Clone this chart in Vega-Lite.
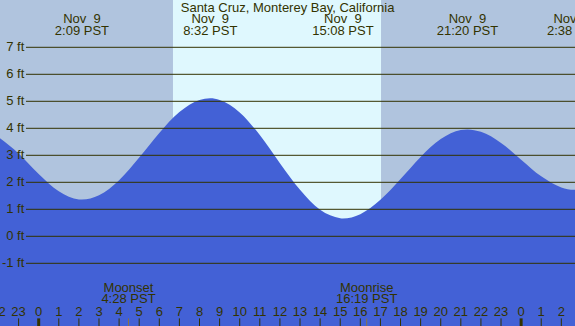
{
  "$schema": "https://vega.github.io/schema/vega-lite/v6.json",
  "width": 575,
  "height": 326,
  "autosize": {"type": "none"},
  "padding": 0,
  "background": "#B0C4DE",
  "config": {
    "view": {"stroke": null},
    "text": {"font": "Liberation Sans", "fontSize": 13, "color": "#333300"}
  },
  "datasets": {
    "tide": [
      {"t": -2, "ft": 3.67}, {"t": -1, "ft": 3.07}, {"t": 0, "ft": 2.31}, {"t": 1, "ft": 1.67},
      {"t": 2, "ft": 1.365}, {"t": 2.15, "ft": 1.36}, {"t": 3, "ft": 1.52}, {"t": 4, "ft": 2.08},
      {"t": 5, "ft": 2.92}, {"t": 6, "ft": 3.83}, {"t": 7, "ft": 4.6}, {"t": 8, "ft": 5.05},
      {"t": 8.53, "ft": 5.11}, {"t": 9, "ft": 5.05}, {"t": 10, "ft": 4.59}, {"t": 11, "ft": 3.75},
      {"t": 12, "ft": 2.71}, {"t": 13, "ft": 1.72}, {"t": 14, "ft": 0.98}, {"t": 15, "ft": 0.67},
      {"t": 15.13, "ft": 0.66}, {"t": 16, "ft": 0.82}, {"t": 17, "ft": 1.35}, {"t": 18, "ft": 2.12},
      {"t": 19, "ft": 2.94}, {"t": 20, "ft": 3.6}, {"t": 21, "ft": 3.94}, {"t": 21.33, "ft": 3.96},
      {"t": 22, "ft": 3.87}, {"t": 23, "ft": 3.46}, {"t": 24, "ft": 2.84}, {"t": 25, "ft": 2.22},
      {"t": 26, "ft": 1.81}, {"t": 26.63, "ft": 1.72}, {"t": 26.7, "ft": 1.72}
    ],
    "daylight": [{"sunrise": 6.68, "sunset": 17.03}],
    "levels": [
      {"ft": 7, "label": "7 ft"}, {"ft": 6, "label": "6 ft"}, {"ft": 5, "label": "5 ft"},
      {"ft": 4, "label": "4 ft"}, {"ft": 3, "label": "3 ft"}, {"ft": 2, "label": "2 ft"},
      {"ft": 1, "label": "1 ft"}, {"ft": 0, "label": "0 ft"}, {"ft": -1, "label": "-1 ft"}
    ],
    "extremes": [
      {"t": 2.15, "date": "Nov\u00a0 9", "time": "2:09 PST"},
      {"t": 8.533, "date": "Nov\u00a0 9", "time": "8:32 PST"},
      {"t": 15.133, "date": "Nov\u00a0 9", "time": "15:08 PST"},
      {"t": 21.333, "date": "Nov\u00a0 9", "time": "21:20 PST"},
      {"t": 26.633, "date": "Nov 10", "time": "2:38 PST"}
    ],
    "hours": [
      {"t": -2, "label": "22", "midnight": false}, {"t": -1, "label": "23", "midnight": false},
      {"t": 0, "label": "0", "midnight": true}, {"t": 1, "label": "1", "midnight": false},
      {"t": 2, "label": "2", "midnight": false}, {"t": 3, "label": "3", "midnight": false},
      {"t": 4, "label": "4", "midnight": false}, {"t": 5, "label": "5", "midnight": false},
      {"t": 6, "label": "6", "midnight": false}, {"t": 7, "label": "7", "midnight": false},
      {"t": 8, "label": "8", "midnight": false}, {"t": 9, "label": "9", "midnight": false},
      {"t": 10, "label": "10", "midnight": false}, {"t": 11, "label": "11", "midnight": false},
      {"t": 12, "label": "12", "midnight": false}, {"t": 13, "label": "13", "midnight": false},
      {"t": 14, "label": "14", "midnight": false}, {"t": 15, "label": "15", "midnight": false},
      {"t": 16, "label": "16", "midnight": false}, {"t": 17, "label": "17", "midnight": false},
      {"t": 18, "label": "18", "midnight": false}, {"t": 19, "label": "19", "midnight": false},
      {"t": 20, "label": "20", "midnight": false}, {"t": 21, "label": "21", "midnight": false},
      {"t": 22, "label": "22", "midnight": false}, {"t": 23, "label": "23", "midnight": false},
      {"t": 24, "label": "0", "midnight": true}, {"t": 25, "label": "1", "midnight": false},
      {"t": 26, "label": "2", "midnight": false}
    ],
    "moon": [
      {"t": 4.467, "event": "Moonset", "time": "4:28 PST"},
      {"t": 16.317, "event": "Moonrise", "time": "16:19 PST"}
    ]
  },
  "layer": [
    {
      "data": {"name": "daylight"},
      "mark": {"type": "rect", "color": "#DFF8FE"},
      "encoding": {
        "x": {"field": "sunrise", "type": "quantitative", "scale": {"domain": [-1.925, 26.68], "nice": false, "zero": false}, "axis": null},
        "x2": {"field": "sunset"},
        "y": {"datum": 8.752, "type": "quantitative", "scale": {"domain": [-3.322, 8.752], "nice": false, "zero": false}, "axis": null},
        "y2": {"datum": -3.322}
      }
    },
    {
      "data": {"name": "tide"},
      "mark": {"type": "area", "color": "#4361D6", "interpolate": "monotone"},
      "encoding": {
        "x": {"field": "t", "type": "quantitative"},
        "y": {"field": "ft", "type": "quantitative"},
        "y2": {"datum": -3.322}
      }
    },
    {
      "data": {"name": "levels"},
      "mark": {"type": "rule", "color": "#333300", "strokeWidth": 1},
      "encoding": {
        "x": {"datum": -0.632, "type": "quantitative"},
        "x2": {"datum": 26.68},
        "y": {"field": "ft", "type": "quantitative"}
      }
    },
    {
      "data": {"name": "levels"},
      "mark": {"type": "text", "align": "right", "baseline": "middle"},
      "encoding": {
        "x": {"datum": -0.716, "type": "quantitative"},
        "y": {"field": "ft", "type": "quantitative"},
        "text": {"field": "label"}
      }
    },
    {
      "data": {"values": [{"title": "Santa Cruz, Monterey Bay, California"}]},
      "mark": {"type": "text", "align": "center", "baseline": "middle"},
      "encoding": {
        "x": {"datum": 12.38, "type": "quantitative"},
        "y": {"datum": 8.47, "type": "quantitative"},
        "text": {"field": "title"}
      }
    },
    {
      "data": {"name": "extremes"},
      "mark": {"type": "text", "align": "center", "baseline": "middle"},
      "encoding": {
        "x": {"field": "t", "type": "quantitative"},
        "y": {"datum": 8.05, "type": "quantitative"},
        "text": {"field": "date"}
      }
    },
    {
      "data": {"name": "extremes"},
      "mark": {"type": "text", "align": "center", "baseline": "middle"},
      "encoding": {
        "x": {"field": "t", "type": "quantitative"},
        "y": {"datum": 7.59, "type": "quantitative"},
        "text": {"field": "time"}
      }
    },
    {
      "data": {"name": "hours"},
      "mark": {"type": "rule", "color": "#333300"},
      "encoding": {
        "x": {"field": "t", "type": "quantitative"},
        "y": {"datum": -3.04, "type": "quantitative"},
        "y2": {"datum": -3.322},
        "strokeWidth": {"condition": {"test": "datum.midnight", "value": 3}, "value": 1}
      }
    },
    {
      "data": {"name": "hours"},
      "mark": {"type": "text", "align": "center", "baseline": "middle"},
      "encoding": {
        "x": {"field": "t", "type": "quantitative"},
        "y": {"datum": -2.8, "type": "quantitative"},
        "text": {"field": "label"}
      }
    },
    {
      "data": {"name": "moon"},
      "mark": {"type": "rule", "color": "#8A7444", "strokeWidth": 1},
      "encoding": {
        "x": {"field": "t", "type": "quantitative"},
        "y": {"datum": -3.04, "type": "quantitative"},
        "y2": {"datum": -3.322}
      }
    },
    {
      "data": {"name": "moon"},
      "mark": {"type": "text", "align": "center", "baseline": "middle"},
      "encoding": {
        "x": {"field": "t", "type": "quantitative"},
        "y": {"datum": -1.915, "type": "quantitative"},
        "text": {"field": "event"}
      }
    },
    {
      "data": {"name": "moon"},
      "mark": {"type": "text", "align": "center", "baseline": "middle"},
      "encoding": {
        "x": {"field": "t", "type": "quantitative"},
        "y": {"datum": -2.34, "type": "quantitative"},
        "text": {"field": "time"}
      }
    }
  ]
}
